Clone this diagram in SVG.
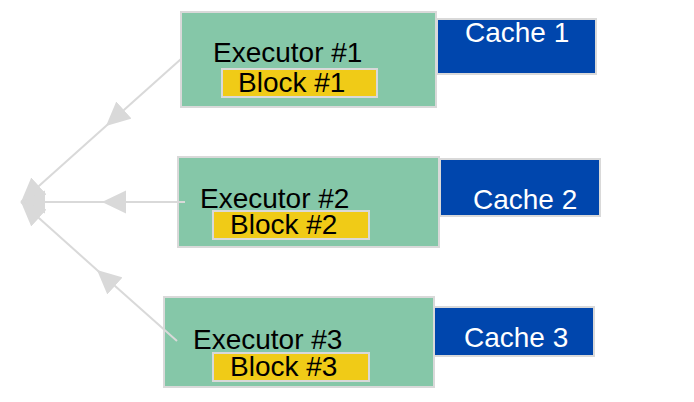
<svg xmlns="http://www.w3.org/2000/svg" width="694" height="402" viewBox="0 0 694 402">
  <defs>
    <style>
      .exec { fill: #85C7A8; stroke: #D9D9D9; stroke-width: 2; }
      .block { fill: #F0CB17; stroke: #D9D9D9; stroke-width: 2; }
      .cache { fill: #0046AD; stroke: #D9D9D9; stroke-width: 2; }
      .t { font-family: "Liberation Sans", Arial, sans-serif; font-size: 28px; fill: #000; }
      .tw { font-family: "Liberation Sans", Arial, sans-serif; font-size: 28px; fill: #fff; }
      .conn { fill: none; stroke: #D9D9D9; stroke-width: 2; marker-mid: url(#arr); marker-end: url(#arr); }
    </style>
    <marker id="arr" markerUnits="userSpaceOnUse" markerWidth="24" markerHeight="24" viewBox="0 0 21 20" refX="21" refY="10" orient="auto">
      <polygon points="0,0 21,10 0,20" fill="#D9D9D9"/>
    </marker>
  </defs>

  <g id="executor1">
    <rect class="exec" x="181" y="12" width="255" height="95"/>
    <text class="t" x="213" y="62">Executor #1</text>
  </g>
  <g id="block1">
    <rect class="block" x="222" y="69" width="155" height="28"/>
    <text class="t" x="238" y="92">Block #1</text>
  </g>
  <g id="cache1">
    <rect class="cache" x="437" y="19" width="159" height="55"/>
    <text class="tw" x="465" y="42">Cache 1</text>
  </g>

  <g id="executor2">
    <rect class="exec" x="178" y="157" width="261" height="90"/>
    <text class="t" x="200" y="208">Executor #2</text>
  </g>
  <g id="block2">
    <rect class="block" x="213" y="211" width="156" height="28"/>
    <text class="t" x="230" y="234">Block #2</text>
  </g>
  <g id="cache2">
    <rect class="cache" x="440" y="159" width="160" height="57"/>
    <text class="tw" x="473" y="209">Cache 2</text>
  </g>

  <g id="executor3">
    <rect class="exec" x="164" y="297" width="270" height="90"/>
    <text class="t" x="193" y="349">Executor #3</text>
  </g>
  <g id="block3">
    <rect class="block" x="213" y="353" width="156" height="28"/>
    <text class="t" x="230" y="376">Block #3</text>
  </g>
  <g id="cache3">
    <rect class="cache" x="434" y="307" width="160" height="49"/>
    <text class="tw" x="464" y="347">Cache 3</text>
  </g>

  <g id="connectors">
    <polyline class="conn" points="181,59 106,126 21,202"/>
    <polyline class="conn" points="185,202 102,202 21,202"/>
    <polyline class="conn" points="177,341 97,270 21,202"/>
  </g>
</svg>
